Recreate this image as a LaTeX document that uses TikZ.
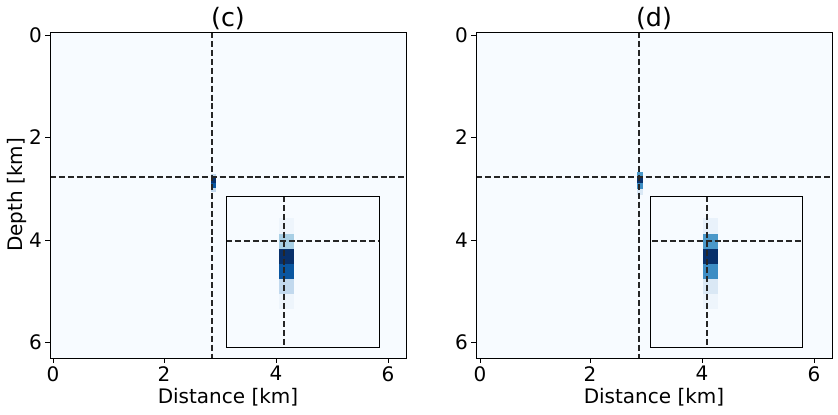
\documentclass[tikz,border=0pt]{standalone}
\usepackage{fontspec}
\setmainfont{DejaVu Sans}
\definecolor{bgblue}{HTML}{F7FBFF}
\definecolor{bnavy}{HTML}{08306B}
\definecolor{bdeep}{HTML}{0A56A0}
\definecolor{bmid}{HTML}{4A98C9}
\definecolor{bmidb}{HTML}{3D8DC4}
\definecolor{bsky}{HTML}{A8CFE5}
\definecolor{bpale}{HTML}{C2D9EE}
\definecolor{bpaleb}{HTML}{DAE8F5}
\definecolor{bfaint}{HTML}{EEF5FC}
\definecolor{bfaintb}{HTML}{E9F2FB}
\tikzset{
  guide/.style={black!85, line width=1.1pt, dash pattern=on 4.5pt off 2.2pt},
  axisbox/.style={draw=black, line width=0.6pt},
  ticklbl/.style={font=\fontsize{15}{17}\selectfont, inner sep=0pt},
  axlbl/.style={font=\fontsize{15}{17}\selectfont, inner sep=0pt},
  ttl/.style={font=\fontsize{19}{21}\selectfont, inner sep=0pt}
}
\newcommand{\cell}[5]{\fill[#5] (#1,#2) rectangle (#3,#4);}
\begin{document}
\begin{tikzpicture}[x=0.75pt,y=-0.75pt]
\useasboundingbox (0,0) rectangle (838,414);
% panel (c)
\fill[bgblue] (50,32) rectangle (406,358);
\cell{211}{174}{216}{177}{bpale}
\cell{211}{177}{216}{183}{bnavy}
\cell{211}{183}{216}{188}{bdeep}
\cell{211}{188}{216}{192}{bpale}
\draw[guide] (212,32) -- (212,358);
\draw[guide] (50,177) -- (406,177);
\fill[bgblue] (226,196) rectangle (379,347);
\cell{279}{218}{294}{234}{bfaint}
\cell{279}{234}{294}{249}{bsky}
\cell{279}{249}{294}{264}{bnavy}
\cell{279}{264}{294}{279}{bdeep}
\cell{279}{279}{294}{294}{bpale}
\cell{279}{294}{294}{309}{bfaint}
\draw[guide] (284,196) -- (284,347);
\draw[guide] (226,241) -- (379,241);
\draw[axisbox] (226,196) rectangle (379,347);
\draw[axisbox] (50,32) rectangle (406,358);
\foreach \v/\px in {0/53,2/164,4/276,6/388}{
  \draw (\px,358) -- (\px,363);
  \node[ticklbl, anchor=north] (cx\v) at (\px,366) {\v};
}
\foreach \v/\py in {0/35,2/137,4/240,6/342}{
  \draw (50,\py) -- (45,\py);
  \node[ticklbl, anchor=east] (cy\v) at (42,\py) {\v};
}
\node[axlbl] (cxlabel) at (228,397) {Distance [km]};
\node[axlbl, rotate=90] (cylabel) at (17,195) {Depth [km]};
\node[ttl] (ctitle) at (228,19) {(c)};
% panel (d)
\fill[bgblue] (476,32) rectangle (832,358);
\cell{637}{172}{643}{177}{bmid}
\cell{637}{177}{643}{183}{bnavy}
\cell{637}{183}{643}{189}{bmidb}
\cell{637}{189}{643}{195}{bpaleb}
\draw[guide] (639,32) -- (639,358);
\draw[guide] (476,177) -- (832,177);
\fill[bgblue] (650,196) rectangle (802,347);
\cell{703}{218}{718}{234}{bfaintb}
\cell{703}{234}{718}{249}{bmid}
\cell{703}{249}{718}{264}{bnavy}
\cell{703}{264}{718}{279}{bmidb}
\cell{703}{279}{718}{294}{bpaleb}
\cell{703}{294}{718}{309}{bfaint}
\draw[guide] (707,196) -- (707,347);
\draw[guide] (652,241) -- (802,241);
\draw[axisbox] (650,196) rectangle (802,347);
\draw[axisbox] (476,32) rectangle (832,358);
\foreach \v/\px in {0/480,2/590,4/702,6/814}{
  \draw (\px,358) -- (\px,363);
  \node[ticklbl, anchor=north] (dx\v) at (\px,366) {\v};
}
\foreach \v/\py in {0/35,2/137,4/240,6/342}{
  \draw (476,\py) -- (471,\py);
  \node[ticklbl, anchor=east] (dy\v) at (468,\py) {\v};
}
\node[axlbl] (dxlabel) at (654,397) {Distance [km]};
\node[ttl] (dtitle) at (654,19) {(d)};
\end{tikzpicture}
\end{document}
